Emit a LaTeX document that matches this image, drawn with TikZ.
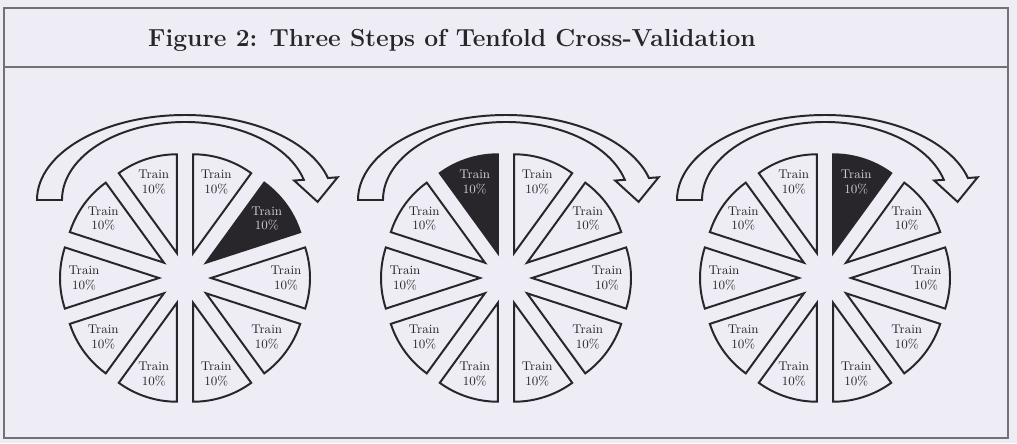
\documentclass[tikz,border=0pt]{standalone}
\usetikzlibrary{calc}

\definecolor{paper}{RGB}{238,236,244}
\definecolor{ink}{RGB}{40,38,43}
\definecolor{rule}{RGB}{115,113,120}

\tikzset{
  wedge/.style={draw=ink,line width=1.4pt,line join=miter},
  lbl/.style={align=center,font=\fontsize{9}{10.5}\selectfont,inner sep=0pt},
  looparrow/.style={draw=ink,line width=1.4pt,fill=paper,line join=miter}
}

\begin{document}
\begin{tikzpicture}[x=0.025cm,y=0.025cm]
  % page and frame
  \fill[paper] (0,0) rectangle (1017,443);
  \useasboundingbox (0,0) rectangle (1017,443);
  \draw[rule,line width=1pt] (4,5) rectangle (1008,435);
  \draw[rule,line width=1pt] (4,376) -- (1008,376);
  \node[font=\fontsize{17.5}{20}\selectfont\bfseries,text=ink] (title) at (452,403)
    {Figure 2: Three Steps of Tenfold Cross-Validation};

  % one pie per step: centre x / angle of the dark fold
  \foreach \cx/\dark [count=\i] in {185/36,506/108,825/72}{
    \coordinate (c\i) at (\cx,165);
    \coordinate (r\i) at (\cx,243);
    % the loop arrow over the pie
    \coordinate (po\i) at ($(r\i)+(15:148 and 85)$);
    \coordinate (pi\i) at ($(r\i)+(15:123 and 78)$);
    \coordinate (pm\i) at ($(po\i)!0.5!(pi\i)$);
    \draw[looparrow] (r\i) ++(180:148 and 85)
      arc[start angle=180,end angle=15,x radius=148,y radius=85]
      -- ($(pi\i)!1.4!(po\i)$) -- ($(pm\i)!1.9!-90:(po\i)$) -- ($(po\i)!1.4!(pi\i)$)
      -- (pi\i) arc[start angle=15,end angle=180,x radius=123,y radius=78] -- cycle;
    % ten folds
    \foreach \a in {0,36,...,324}{
      \ifnum\a=\dark\relax \def\wfill{ink}\def\wtext{paper!85!ink}\else \def\wfill{paper}\def\wtext{ink}\fi
      \draw[wedge,fill=\wfill] ($(c\i)+(\a:26)$) -- ++(\a-18:99)
        arc[start angle=\a-18,end angle=\a+18,radius=99] -- cycle;
      \node[lbl,text=\wtext] (t\i-\a) at ($(c\i)+(\a:101)$) {Train\\10\%};
    }
  }
\end{tikzpicture}
\end{document}
